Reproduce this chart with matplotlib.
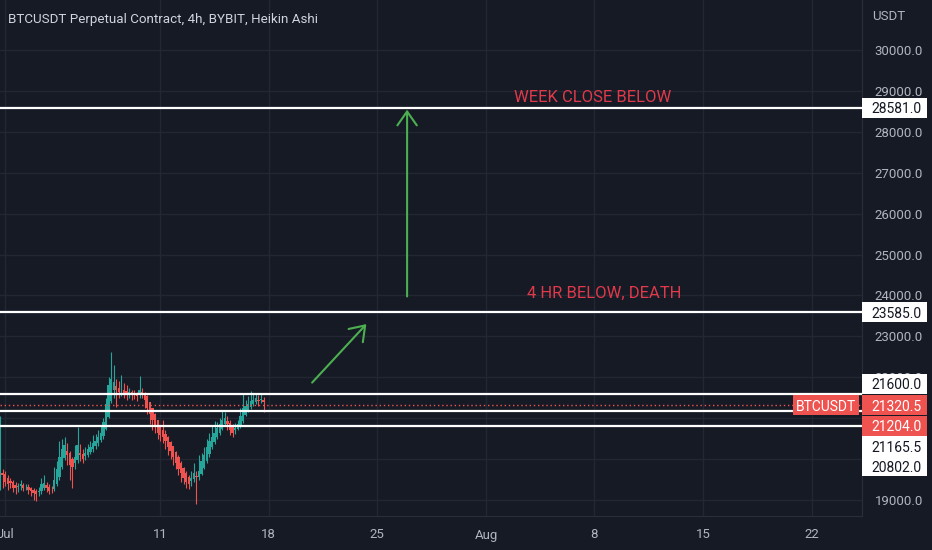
import matplotlib
matplotlib.use("Agg")
import matplotlib.pyplot as plt
import matplotlib.dates as mdates
from matplotlib.patches import Rectangle
import pandas as pd

# heikin ashi candles, 4h, BYBIT BTCUSDT perp
start = "2022-06-30 16:00"
ha_open = [19350, 19650, 19625, 19540, 19460, 19440, 19370, 19330,
           19340, 19360, 19330, 19330, 19290, 19255,
           19220, 19185, 19210, 19295, 19360, 19330,
           19275, 19268, 19384, 19567, 19808, 20030,
           20190, 20145, 19998, 19900, 19975, 20160,
           20130, 20065, 20108, 20180, 20240, 20320,
           20385, 20468, 20560, 20730, 21040, 21420,
           21685, 21780, 21740, 21695, 21698, 21660,
           21620, 21630, 21597, 21588, 21569, 21635,
           21617, 21533, 21392, 21246, 21098, 20949,
           20800, 20700, 20625, 20538, 20419, 20310,
           20180, 20040, 19895, 19773, 19661, 19556,
           19468, 19509, 19580, 19570, 19635, 19793,
           19947, 20123, 20287, 20419, 20535, 20643,
           20747, 20848, 20924, 20887, 20793, 20722,
           20736, 20793, 20921, 21086, 21193, 21272,
           21346, 21398, 21449, 21435, 21457]
ha_close = [19950, 19600, 19450, 19380, 19420, 19300, 19290, 19350,
            19380, 19300, 19330, 19250, 19220, 19180,
            19150, 19230, 19380, 19420, 19300, 19220,
            19260, 19500, 19750, 20050, 20250, 20350,
            20100, 19850, 19800, 20050, 20350, 20100,
            20000, 20150, 20250, 20300, 20400, 20450,
            20550, 20650, 20900, 21350, 21800, 21950,
            21880, 21700, 21650, 21700, 21620, 21580,
            21640, 21560, 21580, 21550, 21700, 21600,
            21450, 21250, 21100, 20950, 20800, 20650,
            20600, 20550, 20450, 20300, 20200, 20050,
            19900, 19750, 19650, 19550, 19450, 19380,
            19550, 19650, 19560, 19700, 19950, 20100,
            20300, 20450, 20550, 20650, 20750, 20850,
            20950, 21000, 20850, 20700, 20650, 20750,
            20850, 21050, 21250, 21300, 21350, 21420,
            21450, 21500, 21420, 21480, 21400]
ha_high = [21050, 19750, 19700, 19600, 19550, 19500, 19450, 19420,
           19480, 19420, 19400, 19380, 19330, 19300,
           19280, 19320, 19550, 19600, 19450, 19380,
           19350, 19800, 19950, 20450, 20500, 20550,
           20400, 20200, 20050, 20350, 20780, 20380,
           20250, 20300, 20380, 20450, 20600, 20620,
           20700, 20800, 21000, 21500, 22000, 22610,
           22300, 21950, 21900, 22050, 21850, 21800,
           21750, 21700, 21680, 21650, 22020, 21750,
           21650, 21560, 21400, 21250, 21120, 20960,
           20820, 20950, 20700, 20560, 20450, 20330,
           20200, 20100, 19950, 19800, 19700, 19600,
           19700, 19900, 19720, 20100, 20150, 20300,
           20500, 20650, 20800, 20930, 20900, 21000,
           21170, 21150, 21050, 20950, 20850, 20880,
           20950, 21250, 21590, 21450, 21550, 21660,
           21600, 21620, 21560, 21600, 21520]
ha_low = [19250, 19300, 19350, 19250, 19300, 19200, 19150, 19200,
          19250, 19220, 19250, 19150, 19100, 19000,
          18980, 19100, 19150, 19250, 19200, 19150,
          19180, 19230, 19350, 19500, 19750, 19980,
          19850, 19500, 19300, 19750, 19900, 19950,
          19900, 19980, 20050, 20120, 20180, 20250,
          20330, 20420, 20500, 20700, 21000, 21380,
          21500, 21270, 21500, 21550, 21500, 21450,
          21500, 21450, 21480, 21420, 21500, 21500,
          21250, 21100, 20850, 20700, 20650, 20500,
          20450, 20400, 20250, 20100, 20000, 19850,
          19750, 19600, 19450, 19400, 19300, 19270,
          19350, 19450, 18900, 19500, 19600, 19750,
          19900, 20050, 20250, 20380, 20480, 20600,
          20700, 20800, 20700, 20600, 20550, 20620,
          20700, 20750, 20880, 21050, 21150, 21230,
          21300, 21350, 21300, 21380, 21150]

# horizontal levels drawn on the chart
levels = [28581.0, 23585.0, 21600.0, 21165.5, 20802.0]
last_price = 21320.5
other_price = 21204.0

date_ticks = ["2022-07-01", "2022-07-11", "2022-07-18", "2022-07-25",
              "2022-08-01", "2022-08-08", "2022-08-15", "2022-08-22"]
date_labels = ["Jul", "11", "18", "25", "Aug", "8", "15", "22"]
price_ticks = list(range(19000, 31000, 1000))
hidden_ticks = [20000, 21000]   # covered by the price boxes on the scale

BG = "#161a25"
GRID = "#232733"
TXT = "#b2b5be"
UP = "#26a69a"
DOWN = "#ef5350"
ARROW = "#4caf50"
NOTE = "#e0394a"

plt.rcParams["font.family"] = ["Roboto", "DejaVu Sans"]

W, H = 932, 550
fig = plt.figure(figsize=(W / 100, H / 100), dpi=100, facecolor=BG)
ax = fig.add_axes([0, 1 - 516 / H, 862 / W, 516 / H])
ax.set_facecolor(BG)

t = pd.date_range(start, periods=len(ha_close), freq="4h")
xd = mdates.date2num(t)
for x, o, c, h, l in zip(xd, ha_open, ha_close, ha_high, ha_low):
    col = UP if c >= o else DOWN
    ax.vlines(x, l, h, color=col, lw=0.8, zorder=3)
    ax.bar(x, c - o, bottom=o, width=0.15, color=col, lw=0, zorder=3)

for lv in levels:
    ax.axhline(lv, color="white", lw=1.6, zorder=4)
ax.axhline(last_price, color=DOWN, lw=1, ls=(0, (1, 2)), zorder=4)


def d(s):
    return mdates.date2num(pd.Timestamp(s))


# drawings
arr = dict(arrowstyle="->,head_length=0.5,head_width=0.35", color=ARROW,
           lw=1.5, mutation_scale=20, shrinkA=0, shrinkB=0)
ax.annotate("", xy=(d("2022-07-26 22:00"), 28540), xytext=(d("2022-07-26 22:00"), 23975),
            arrowprops=arr, zorder=5)
ax.annotate("", xy=(d("2022-07-24 07:00"), 23300), xytext=(d("2022-07-20 19:00"), 21870),
            arrowprops=arr, zorder=5)
ax.text(d("2022-08-02 20:00"), 28830, "WEEK CLOSE BELOW", color=NOTE,
        fontsize=12, va="center", ha="left", zorder=5)
ax.text(d("2022-08-03 15:00"), 24050, "4 HR BELOW, DEATH", color=NOTE,
        fontsize=12, va="center", ha="left", zorder=5)

ax.set_xlim(d("2022-06-30 16:00"), d("2022-08-25 06:00"))
ax.set_ylim(18610, 31220)

ax.set_xticks([d(s) for s in date_ticks])
ax.set_xticklabels(date_labels)
ax.set_yticks(price_ticks)
ax.set_yticklabels(["" if p in hidden_ticks else f"{p:.1f}" for p in price_ticks])
ax.yaxis.tick_right()
ax.tick_params(axis="both", length=0, colors=TXT, labelsize=9.5)
ax.tick_params(axis="y", pad=9)
ax.tick_params(axis="x", pad=9)
ax.grid(True, color=GRID, lw=1)
ax.set_axisbelow(True)
for s in ["top", "left"]:
    ax.spines[s].set_visible(False)
ax.spines["right"].set_color("#2a2e39")
ax.spines["bottom"].set_color("#2a2e39")

# price boxes on the scale, stacked like tradingview does (offset in px)
boxes = [(28581.0, 0, "white", "#131722"), (23585.0, 0, "white", "#131722"),
         (21600.0, 10, "white", "#131722"), (last_price, 0, DOWN, "white"),
         (other_price, -16, DOWN, "white"), (21165.5, -35, "white", "#131722"),
         (20802.0, -40, "white", "#131722")]
for val, off, bg, fg in boxes:
    ypx = ax.transData.transform((xd[0], val))[1] + off
    fig.patches.append(Rectangle((862 / W, (ypx - 10) / H), 65 / W, 20 / H,
                                 transform=fig.transFigure, fc=bg, ec="none", zorder=10))
    fig.text(871 / W, ypx / H, f"{val:.1f}", color=fg, fontsize=10,
             ha="left", va="center_baseline", zorder=11)

ypx = ax.transData.transform((xd[0], last_price))[1]
fig.patches.append(Rectangle((793 / W, (ypx - 10) / H), 66 / W, 20 / H,
                             transform=fig.transFigure, fc=DOWN, ec="none", zorder=10))
fig.text(826 / W, ypx / H, "BTCUSDT", color="white", fontsize=10,
         ha="center", va="center_baseline", zorder=11)

fig.text(8 / W, 1 - 20 / H, "BTCUSDT Perpetual Contract, 4h, BYBIT, Heikin Ashi",
         color="#d1d4dc", fontsize=9.6, va="center", ha="left")
fig.text(872 / W, 1 - 16 / H, "USDT", color=TXT, fontsize=9.5, va="center", ha="left")

fig.savefig("out.png", dpi=100, facecolor=BG)
